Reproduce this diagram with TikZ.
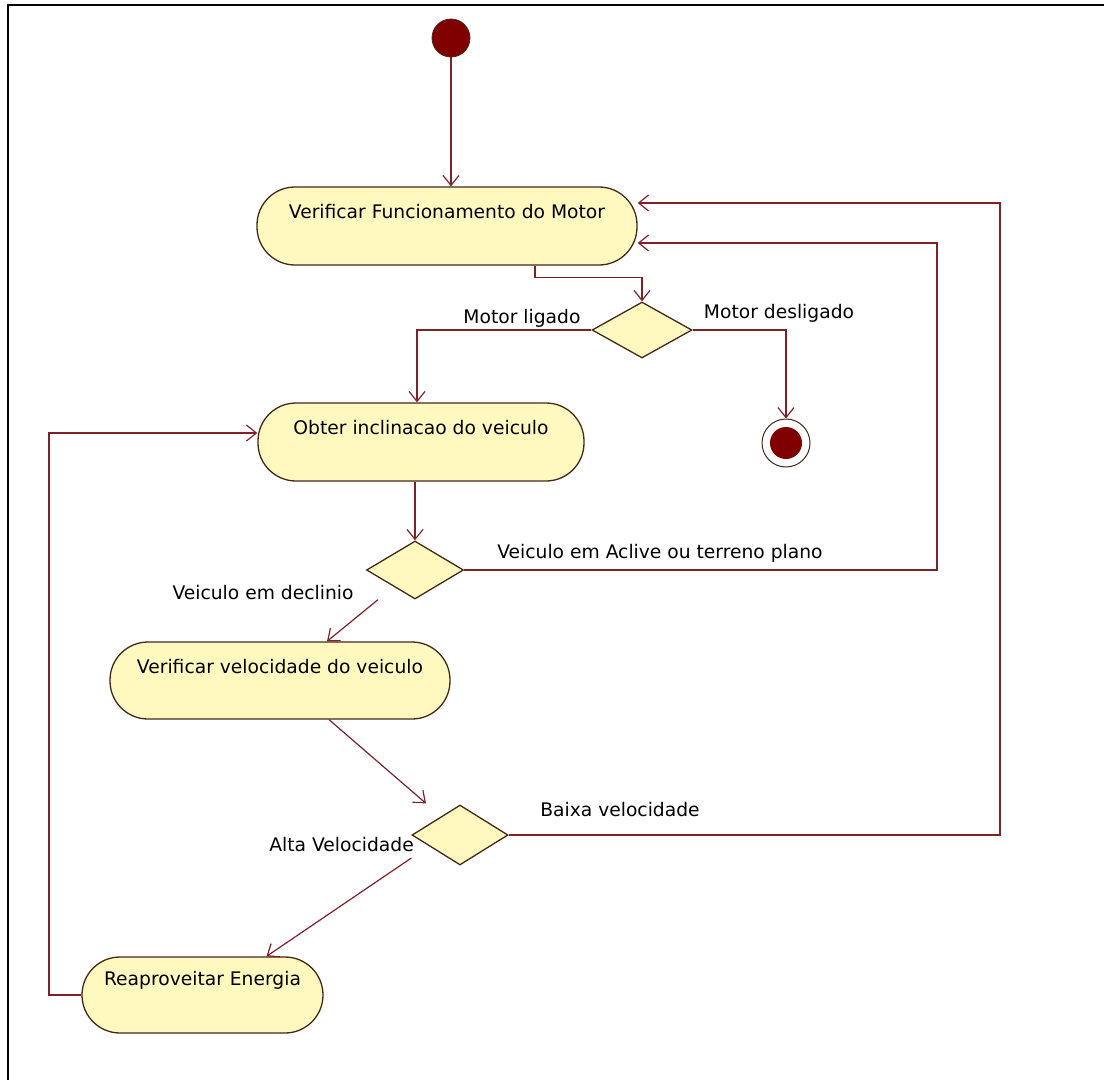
\documentclass[tikz,border=0pt]{standalone}
\usepackage{fontspec}
\setmainfont{DejaVu Sans}
\usetikzlibrary{arrows.meta,shapes.geometric,calc}
\definecolor{boxfill}{RGB}{255,249,192}
\definecolor{boxline}{RGB}{70,40,25}
\definecolor{lnk}{RGB}{125,35,40}
\definecolor{dotfill}{RGB}{128,0,0}
\begin{document}
\begin{tikzpicture}[x=1pt,y=-1pt,
  act/.style={draw=boxline, line width=1.3pt, fill=boxfill, rounded corners=38pt,
    inner xsep=0pt, inner ysep=0pt, text height=31pt, text depth=47pt,
    font=\fontsize{18.7}{20}\selectfont},
  dec/.style={diamond, draw=boxline, line width=1.3pt, fill=boxfill, inner sep=0pt},
  flow/.style={draw=lnk, line width=1.2pt, -{Straight Barb[length=10pt,width=16pt]}},
  lbl/.style={font=\fontsize{18.7}{20}\selectfont, inner sep=0pt}
]
\useasboundingbox (0,0) rectangle (1104,1080);
\fill[white] (0,0) rectangle (1104,1080);
\draw[line width=2pt, black] (1104,4.5) -- (7.5,4.5) -- (7.5,1080);

% nodes
\node[circle, fill=dotfill, draw=boxline, line width=0.8pt, minimum size=38pt, inner sep=0pt] (start) at (451,38) {};
\node[act, minimum width=380pt] (b1) at (447,226) {Verificar Funcionamento do Motor};
\node[dec, minimum width=100pt, minimum height=56pt] (d1) at (642,330) {};
\node[act, minimum width=326pt] (b2) at (421,442) {Obter inclinacao do veiculo};
\node[circle, draw=boxline, line width=1pt, fill=white, minimum size=48pt, inner sep=0pt] (final) at (786,443) {};
\node[circle, fill=dotfill, minimum size=32pt, inner sep=0pt] (finalin) at (786,443) {};
\node[dec, minimum width=97pt, minimum height=58pt] (d2) at (415,570) {};
\node[act, minimum width=340pt, text depth=46pt] (b3) at (280,680.5) {Verificar velocidade do veiculo};
\node[dec, minimum width=96pt, minimum height=60pt] (d3) at (460,835) {};
\node[act, minimum width=241pt, text height=28pt, text depth=48pt] (b4) at (202.5,995) {Reaproveitar Energia};

% labels
\node[lbl] (l1) at (522,318) {Motor ligado};
\node[lbl] (l2) at (779,313) {Motor desligado};
\node[lbl] (l3) at (660,553) {Veiculo em Aclive ou terreno plano};
\node[lbl] (l4) at (263,593) {Veiculo em declinio};
\node[lbl] (l5) at (620,810) {Baixa velocidade};
\node[lbl, anchor=east] (l6) at (414,845) {Alta Velocidade};

% helper coordinates
\coordinate (rA) at (937,0);
\coordinate (rB) at (1000,0);
\coordinate (lA) at (49,0);

% connectors
\draw[flow] (start) -- (start |- b1.north);
\draw[flow] ([xshift=88pt]b1.south) -- ++(0,12) -| (d1.north);
\draw[flow] (d1.west) -| ([xshift=-4pt]b2.north);
\draw[flow] (d1.east) -| (final.north);
\draw[flow] ([xshift=-6pt]b2.south) -- (d2.north);
\draw[flow] (d2.east) -- (d2.east -| rA) |- ([yshift=-17pt]b1.east);
\draw[flow] ($(d2.south)+(-37,0)$) -- ([xshift=47pt]b3.north);
\draw[flow] ([xshift=49pt]b3.south) -- ($(d3.north)+(-34,-1)$);
\draw[flow] ($(d3.west)+(0,23)$) -- ([xshift=64pt]b4.north);
\draw[flow] (b4.west) -- (b4.west -| lA) |- ([yshift=9pt]b2.west);
\draw[flow] (d3.east) -- (d3.east -| rB) |- ([yshift=23pt]b1.east);
\end{tikzpicture}
\end{document}
